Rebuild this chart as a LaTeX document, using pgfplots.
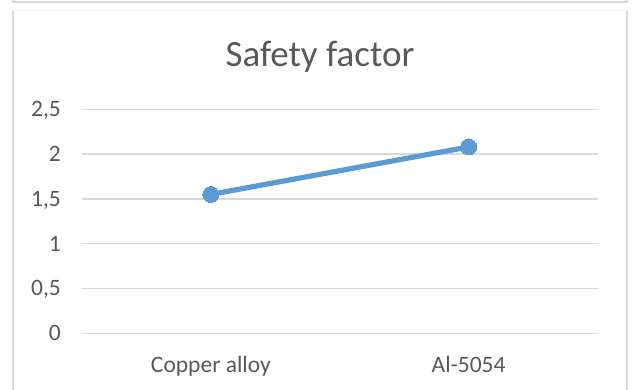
\documentclass[border=0pt]{standalone}
\usepackage{fontspec}
\setmainfont{Carlito}
\usepackage{pgfplots}
\pgfplotsset{compat=1.18}

\definecolor{seriesblue}{HTML}{5B9BD5}
\definecolor{gridgray}{HTML}{D9D9D9}
\definecolor{textgray}{HTML}{595959}
\definecolor{framegray}{HTML}{DADADA}

\begin{document}
\begin{tikzpicture}[x=1pt,y=1pt]
  \path[use as bounding box] (0,0) rectangle (636,389);
  \clip (0,0) rectangle (636,389);

  % chart frames
  \draw[framegray, line width=2pt] (12.5,395) -- (12.5,387) -- (626.7,387) -- (626.7,395);
  \draw[framegray, line width=2pt] (12.5,-5) -- (12.5,378) (626.7,378) -- (626.7,-5);
  \draw[gray!8, line width=1pt] (12.5,378) -- (626.7,378);

  % title
  \node[anchor=base, text=textgray, inner sep=0pt, font=\fontsize{37}{41}\selectfont]
    at (320,322) {Safety factor};

  \begin{axis}[
    at={(82pt,55.7pt)}, anchor=south west,
    scale only axis,
    width=515.5pt, height=224pt,
    xmin=-0.5, xmax=1.5,
    ymin=0, ymax=2.5,
    xtick={0,1},
    xticklabels={Copper alloy, Al-5054},
    ytick={0,0.5,1,1.5,2,2.5},
    yticklabels={0,{0,5},1,{1,5},2,{2,5}},
    axis line style={draw=none},
    major tick length=0pt,
    ymajorgrids,
    grid style={gridgray, line width=1.3pt},
    tick label style={text=textgray, font=\fontsize{23.5}{26}\selectfont, inner sep=0pt},
    yticklabel style={anchor=base east, xshift=-21pt, yshift=-7.4pt},
    xticklabel style={anchor=base, yshift=-38.7pt},
    clip=false,
  ]
    \addplot[seriesblue, line width=5.2pt, mark=*, mark size=8pt,
             mark options={fill=seriesblue, draw=seriesblue, line width=0pt}]
      coordinates {(0,1.55) (1,2.08)};
  \end{axis}
\end{tikzpicture}
\end{document}
